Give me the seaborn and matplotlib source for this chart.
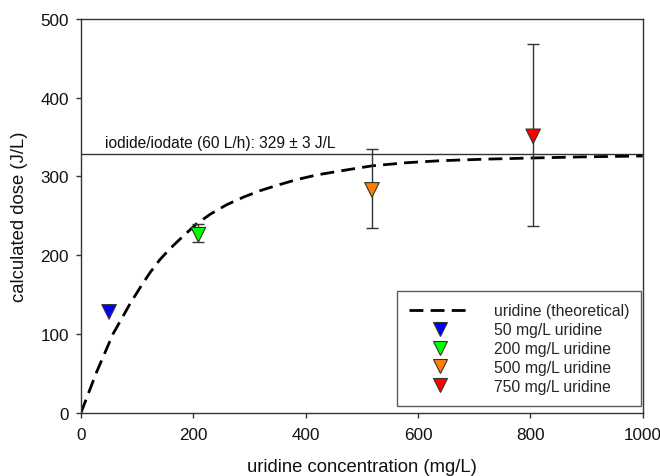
import matplotlib
matplotlib.use("Agg")
import matplotlib.pyplot as plt
from matplotlib.lines import Line2D
import seaborn as sns
import pandas as pd

sns.set_theme(style="ticks")
plt.rcParams['font.family'] = ['Liberation Sans', 'DejaVu Sans']

# theoretical curve
curve_x = [0, 28, 57, 87, 108, 123, 140, 158, 180, 206, 230, 259, 290, 319, 350,
           384, 420, 470, 518, 580, 639, 720, 805, 900, 1000]
curve_y = [0, 52, 100, 138, 162, 178, 194, 208, 223, 240, 252, 264, 274, 282, 289,
           296, 302, 308, 313.5, 317.5, 320, 322, 323.5, 325, 326]

# measured points
labels = ["50 mg/L uridine", "200 mg/L uridine", "500 mg/L uridine", "750 mg/L uridine"]
pt_x = [50, 209, 518, 805]
pt_y = [128, 226, 283, 351]
err_lo = [128, 217, 234, 237]
err_hi = [128, 240, 335, 468]
colors = ["#0000ff", "#00ff00", "#ff8000", "#ff0000"]

ref_value = 329
ref_text = "iodide/iodate (60 L/h): 329 \u00b1 3 J/L"

fig = plt.figure(figsize=(6.6, 4.77), dpi=100)
ax = fig.add_axes([81/660, 1 - 413.7/477, (642.7-81)/660, (413.7-20)/477])

ax.axhline(ref_value, color="#333333", lw=1.0, zorder=1)
ax.text(43, ref_value + 4, ref_text, fontsize=11.2, ha="left", va="bottom", color="#111111")

dash = (0, (5, 2.6))
sns.lineplot(x=curve_x, y=curve_y, ax=ax, color="black", lw=2.0,
             linestyle=dash, zorder=2)

for x, y, lo, hi in zip(pt_x, pt_y, err_lo, err_hi):
    if hi > lo:
        ax.errorbar([x], [y], yerr=[[y - lo], [hi - y]], fmt="none",
                    ecolor="#333333", elinewidth=1.0, capsize=4.5, capthick=1.0, zorder=3)

df = pd.DataFrame({"x": pt_x, "y": pt_y, "label": labels})
sns.scatterplot(data=df, x="x", y="y", hue="label", palette=dict(zip(labels, colors)),
                marker="v", s=110, edgecolor="#333333", linewidth=0.8, ax=ax,
                legend=False, zorder=4)

ax.set_xlim(0, 1000)
ax.set_ylim(0, 500)
ax.set_xticks([0, 200, 400, 600, 800, 1000])
ax.set_yticks([0, 100, 200, 300, 400, 500])
ax.tick_params(axis="both", labelsize=12.3, direction="out", length=3.6, width=1,
               colors="#333333", labelcolor="#111111")
ax.tick_params(axis="x", pad=7)
ax.tick_params(axis="y", pad=5)
ax.set_xlabel("uridine concentration (mg/L)", fontsize=13.3, labelpad=11, color="#111111")
ax.set_ylabel("calculated dose (J/L)", fontsize=13.3, labelpad=9, color="#111111")
for sp in ax.spines.values():
    sp.set_color("#333333")
    sp.set_linewidth(1.0)
    sp.set_visible(True)

handles = [Line2D([0], [0], color="black", lw=2.0, linestyle=dash)]
for lab, c in zip(labels, colors):
    handles.append(Line2D([0], [0], marker="v", linestyle="none", markersize=10,
                          markerfacecolor=c, markeredgecolor="#333333", markeredgewidth=0.8))
leg = ax.legend(handles, ["uridine (theoretical)"] + labels, loc="lower right",
                bbox_to_anchor=(0.997, 0.018), fontsize=11.3, frameon=True, fancybox=False,
                edgecolor="#333333", handlelength=3.9, handletextpad=1.5,
                labelspacing=0.25, borderpad=0.75, borderaxespad=0)
leg.get_frame().set_linewidth(1.0)

fig.savefig("out.png", dpi=100)
